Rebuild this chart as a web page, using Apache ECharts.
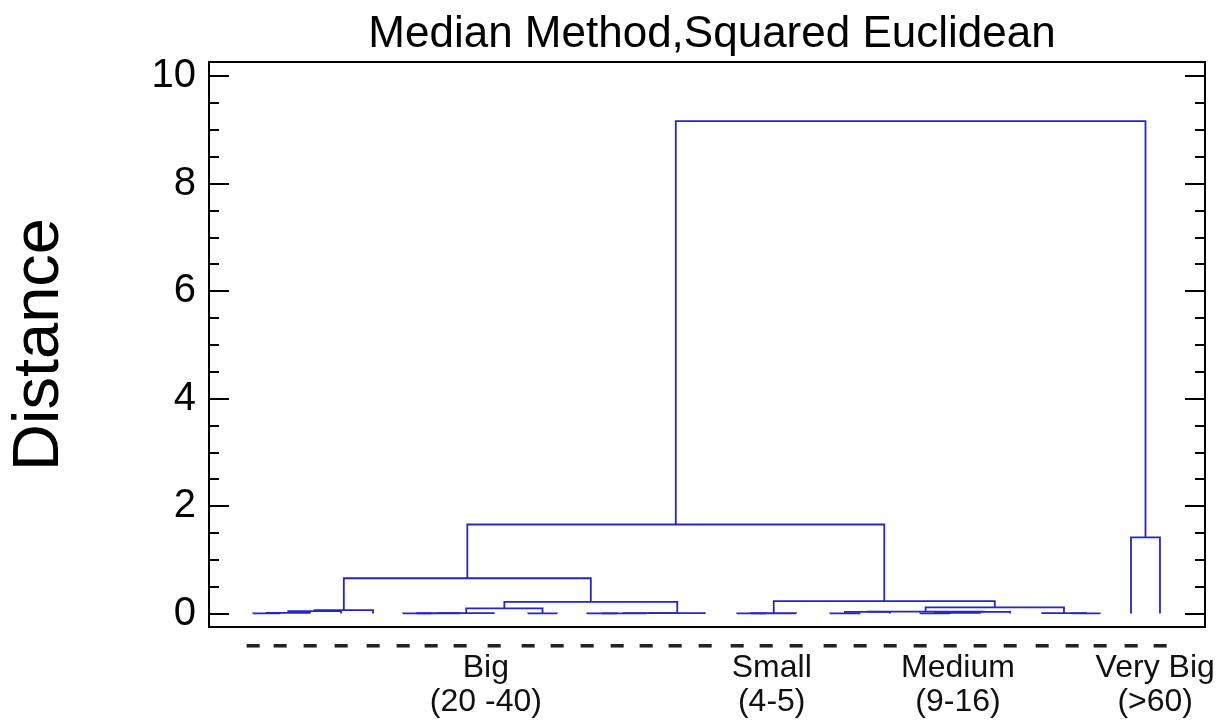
<!DOCTYPE html>
<html>
<head>
<meta charset="utf-8">
<title>Median Method, Squared Euclidean</title>
<script src="https://cdn.jsdelivr.net/npm/echarts@6/dist/echarts.min.js"></script>
<style>
  html, body { margin: 0; padding: 0; background: #fff; }
  #chart { width: 1220px; height: 723px; }
</style>
</head>
<body>
<div id="chart"></div>
<script>
/* 树状图：中位数法，平方欧氏距离 */

// leaf positions along the x axis (0..100 = plot width), left to right
const leafPos = [
  4.42, 7.13, 10.14, 13.25, 16.47,
  19.48, 22.29, 25.20, 28.61, 32.03, 34.94,
  37.95, 40.96, 43.88, 46.79, 49.80,
  53.01, 55.92, 58.94,
  62.35, 65.36, 68.37, 71.39, 74.40, 77.41, 80.42,
  83.63, 86.65, 89.46,
  92.57, 95.48
];

// merges: [left node, right node, distance]; leaves are 0..30, merge k becomes node 31 + k
const merges = [
  [0, 1, 0.004], [31, 2, 0.012], [32, 3, 0.045], [33, 4, 0.065],
  [5, 6, 0.004], [35, 7, 0.006], [36, 8, 0.008], [9, 10, 0.004],
  [37, 38, 0.096],
  [11, 12, 0.003], [40, 13, 0.005], [41, 14, 0.007], [42, 15, 0.009],
  [39, 43, 0.218],
  [34, 44, 0.657],
  [16, 17, 0.003], [46, 18, 0.006],
  [19, 20, 0.004], [48, 21, 0.03],
  [22, 23, 0.003], [50, 24, 0.012], [51, 25, 0.03],
  [49, 52, 0.035],
  [27, 28, 0.004], [26, 54, 0.008],
  [53, 55, 0.115],
  [47, 56, 0.231],
  [45, 57, 1.657],
  [29, 30, 1.417],
  [58, 59, 9.16]
];

const yMajorTicks = [0, 2, 4, 6, 8, 10];
const yMinorTicks = [0.5, 1, 1.5, 2.5, 3, 3.5, 4.5, 5, 5.5, 6.5, 7, 7.5, 8.5, 9, 9.5];

const groupPos = [27.8, 56.5, 75.2, 95.0];
const groupLabels = ['Big\n(20 -40)', 'Small\n(4-5)', 'Medium\n(9-16)', 'Very Big\n(>60)'];

(function () {
  const FONT = '"Liberation Sans", Arial, sans-serif';
  const BLUE = '#2626c0';

  // 计算每个节点的位置与高度，生成 U 形连线
  const nodeX = leafPos.slice();
  const nodeH = leafPos.map(() => 0);
  const links = [];
  merges.forEach(([a, b, h]) => {
    links.push({
      coords: [[nodeX[a], nodeH[a]], [nodeX[a], h], [nodeX[b], h], [nodeX[b], nodeH[b]]]
    });
    nodeX.push((nodeX[a] + nodeX[b]) / 2);
    nodeH.push(h);
  });

  function groupLabel(v) {
    let best = 0;
    groupPos.forEach((p, i) => {
      if (Math.abs(p - v) < Math.abs(groupPos[best] - v)) best = i;
    });
    return groupLabels[best];
  }

  function yTicks(position, values, len, labels) {
    return {
      type: 'value',
      position: position,
      min: -0.25,
      max: 10.26,
      axisLine: { show: false },
      splitLine: { show: false },
      axisTick: {
        show: true,
        inside: true,
        length: len,
        customValues: values,
        lineStyle: { color: '#000', width: 2 }
      },
      axisLabel: labels
        ? { show: true, customValues: yMajorTicks, fontSize: 40, fontFamily: FONT, color: '#000', margin: 13 }
        : { show: false }
    };
  }

  const yLeft = yTicks('left', yMajorTicks, 20, true);
  yLeft.name = 'Distance';
  yLeft.nameLocation = 'middle';
  yLeft.nameGap = 136;
  yLeft.nameTextStyle = { fontSize: 65, fontFamily: FONT, color: '#000' };

  const chart = echarts.init(document.getElementById('chart'), null, { renderer: 'canvas' });
  chart.setOption({
    animation: false,
    backgroundColor: '#fff',
    title: {
      text: 'Median Method,Squared Euclidean',
      left: 707,
      textAlign: 'center',
      top: 8,
      textStyle: { fontSize: 44, fontWeight: 'normal', fontFamily: FONT, color: '#000' }
    },
    grid: {
      left: 209, right: 15, top: 62, bottom: 96,
      show: true, borderColor: '#000', borderWidth: 2, backgroundColor: 'transparent'
    },
    xAxis: [
      {
        type: 'value', position: 'bottom', min: 0, max: 100, offset: 0,
        axisLine: { show: false }, axisTick: { show: false }, splitLine: { show: false },
        axisLabel: {
          customValues: leafPos,
          formatter: () => '━',
          fontSize: 21, fontFamily: '"DejaVu Sans Mono", monospace', color: '#222', margin: 10
        }
      },
      {
        type: 'value', position: 'bottom', min: 0, max: 100, offset: 0,
        axisLine: { show: false }, axisTick: { show: false }, splitLine: { show: false },
        axisLabel: {
          customValues: groupPos,
          formatter: (v) => groupLabel(v),
          fontSize: 32, lineHeight: 34, fontFamily: FONT, color: '#111', margin: 24
        }
      }
    ],
    yAxis: [
      yLeft,
      yTicks('left', yMinorTicks, 10, false),
      yTicks('right', yMajorTicks, 20, false),
      yTicks('right', yMinorTicks, 10, false)
    ],
    series: [
      {
        type: 'lines',
        coordinateSystem: 'cartesian2d',
        xAxisIndex: 0,
        yAxisIndex: 0,
        polyline: true,
        silent: true,
        lineStyle: { color: BLUE, width: 1.8, opacity: 1 },
        data: links
      }
    ]
  });
})();
</script>
</body>
</html>
